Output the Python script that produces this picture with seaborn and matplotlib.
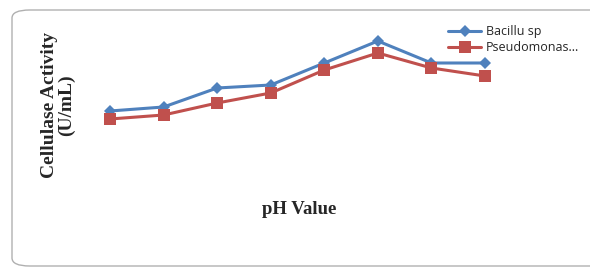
import matplotlib
matplotlib.use("Agg")
import matplotlib.pyplot as plt
import seaborn as sns
import pandas as pd
from matplotlib.patches import FancyBboxPatch

# values (arbitrary activity units, no axis shown)
ph_index = [0, 1, 2, 3, 4, 5, 6, 7]
bacillus = [1.9, 2.3, 4.2, 4.5, 6.7, 8.9, 6.7, 6.7]
pseudomonas = [1.1, 1.5, 2.7, 3.7, 6.0, 7.7, 6.2, 5.4]
series_names = ["Bacillu sp", "Pseudomonas..."]

df = pd.DataFrame({
    "ph": ph_index * 2,
    "activity": bacillus + pseudomonas,
    "series": [series_names[0]] * len(ph_index) + [series_names[1]] * len(ph_index),
})

sns.set_style("white")
fig = plt.figure(figsize=(5.9, 2.69), dpi=100)

# rounded chart frame
frame = FancyBboxPatch((12 / 590, 3 / 269), 600 / 590, 256 / 269,
                       boxstyle="round,pad=0,rounding_size=0.03",
                       transform=fig.transFigure, facecolor="white",
                       edgecolor="#b0b0b0", linewidth=1.0, zorder=-5)
fig.patches.append(frame)

ax = fig.add_axes([80 / 590, 89 / 269, 435 / 590, 160 / 269])
ax.patch.set_alpha(0)
ax.set_zorder(2)

palette = {series_names[0]: "#4F81BD", series_names[1]: "#C0504D"}
markers = {series_names[0]: "D", series_names[1]: "s"}
sizes = {series_names[0]: 6, series_names[1]: 8}

for name in series_names:
    sub = df[df["series"] == name]
    sns.lineplot(data=sub, x="ph", y="activity", ax=ax, color=palette[name],
                 marker=markers[name], markersize=sizes[name], linewidth=2.2,
                 markeredgewidth=0, label=name, legend=False)

ax.set_xlim(-0.56, 7.56)
ax.set_ylim(-5, 11)
ax.set_xticks([])
ax.set_yticks([])
ax.set_xlabel("")
ax.set_ylabel("")
for s in ax.spines.values():
    s.set_visible(False)

handles, labels = ax.get_legend_handles_labels()
fig.legend(handles, labels, loc="upper left", bbox_to_anchor=(437 / 590, 1 - 14 / 269),
           frameon=False, handlelength=2.6, handletextpad=0.4,
           labelspacing=0.25, prop={"family": "Open Sans", "size": 9})

fig.text(58 / 590, 1 - 105 / 269, "Cellulase Activity\n(U/mL)", rotation=90,
         ha="center", va="center", family="Liberation Serif", fontweight="bold",
         fontsize=14, linespacing=1.05)
fig.text(299 / 590, 1 - 210 / 269, "pH Value", ha="center", va="center",
         family="Liberation Serif", fontweight="bold", fontsize=13.5)

fig.savefig("out.png", dpi=100)
